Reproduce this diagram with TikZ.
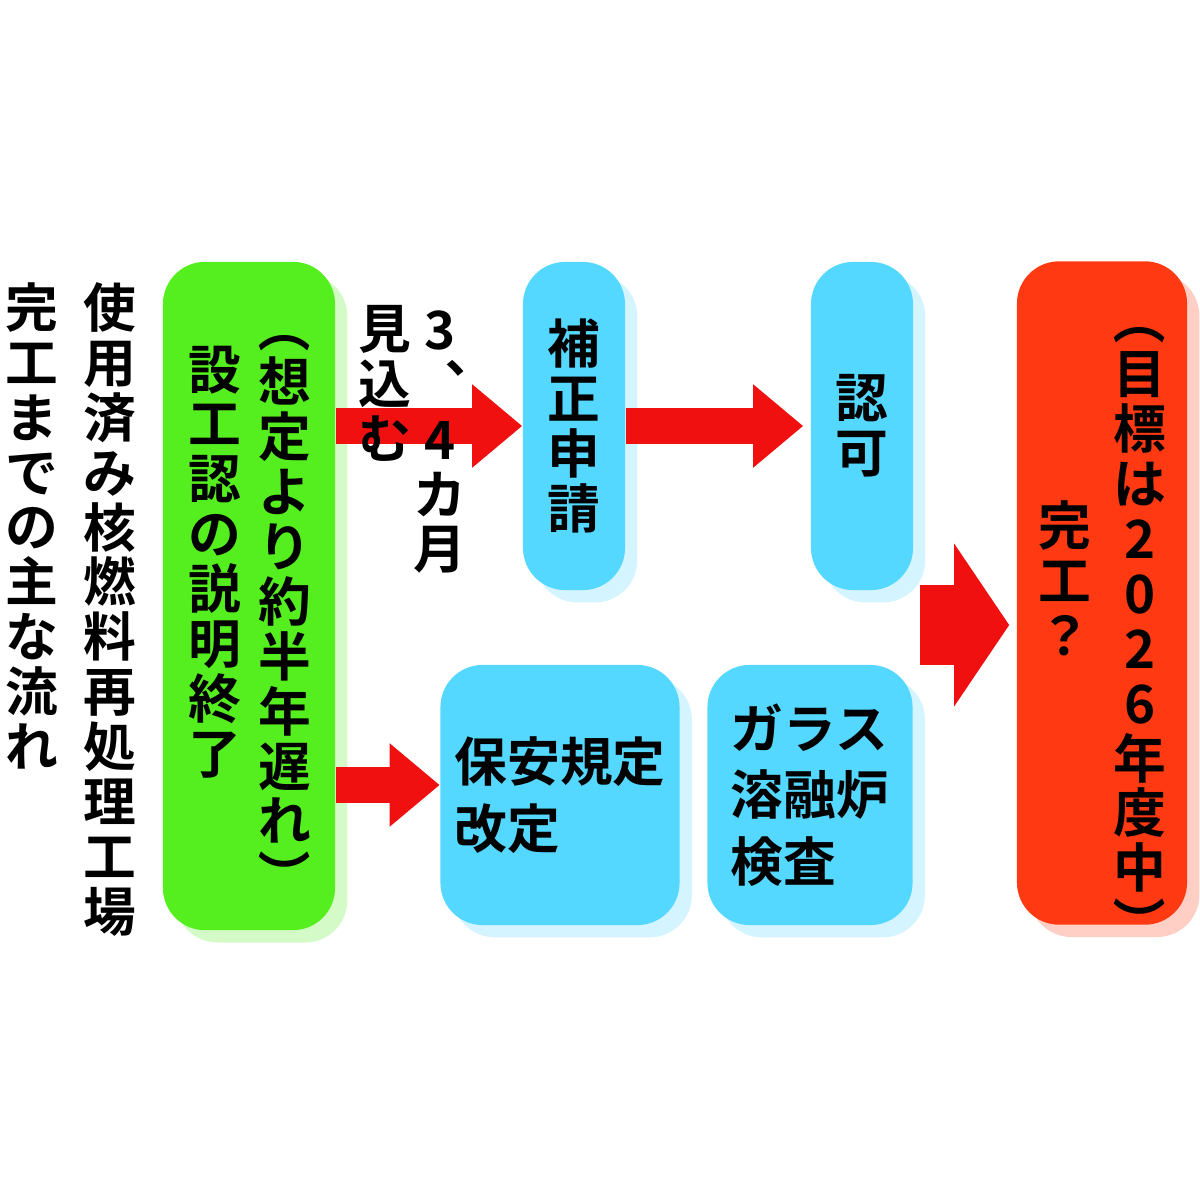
\documentclass[tikz,border=0pt]{standalone}
\usepackage{fontspec}
\setmainfont{Noto Sans CJK JP}[BoldFont={Noto Sans CJK JP Bold}]
\usetikzlibrary{arrows.meta,shadows}
\definecolor{boxgreen}{HTML}{55EE1E}
\definecolor{boxblue}{HTML}{55D8FF}
\definecolor{boxred}{HTML}{FF3A12}
\definecolor{arrowred}{HTML}{F01010}
\tikzset{
	box/.style={rounded corners=12pt, inner sep=0pt},
	gbox/.style={box, fill=boxgreen, drop shadow={shadow xshift=3.5pt, shadow yshift=-3.5pt, fill=boxgreen!25, opacity=1}},
	bbox/.style={box, fill=boxblue, drop shadow={shadow xshift=3.5pt, shadow yshift=-3.5pt, fill=boxblue!25, opacity=1}},
	rbox/.style={box, fill=boxred, drop shadow={shadow xshift=3.5pt, shadow yshift=-3.5pt, fill=boxred!25, opacity=1}},
	vcol/.style={align=center, inner sep=0pt, font=\bfseries\fontsize{15}{15.6}\selectfont},
	hcol/.style={align=left, inner sep=0pt, font=\bfseries\fontsize{15}{19}\selectfont},
	flow/.style={draw=arrowred, line width=0.36cm, -{Triangle[length=0.5cm, width=0.8cm]}},
	bigflow/.style={draw=arrowred, line width=0.8cm, -{Triangle[length=0.55cm, width=1.6cm]}},
}
\newcommand\rparen[1]{\rotatebox[origin=c]{-90}{#1}}
\begin{document}
\begin{tikzpicture}[x=0.01cm, y=-0.01cm]
	\useasboundingbox (0,0) rectangle (1200,1200);
	% boxes
	\node[gbox, minimum width=1.72cm, minimum height=6.68cm] (setsumei) at (249,596) {};
	\node[bbox, minimum width=1.02cm, minimum height=3.28cm] (hosei) at (574,426) {};
	\node[bbox, minimum width=1.02cm, minimum height=3.28cm] (ninka) at (862,426) {};
	\node[bbox, minimum width=2.39cm, minimum height=2.60cm] (hoan) at (560,795) {};
	\node[bbox, minimum width=2.05cm, minimum height=2.60cm] (glass) at (810,795) {};
	\node[rbox, minimum width=1.70cm, minimum height=6.63cm] (kanko) at (1102,593) {};

	% arrows
	\draw[flow] (setsumei.east |- hosei.west) -- (hosei.west);
	\draw[flow] (hosei.east) -- ([xshift=-2pt]ninka.west);
	\draw[flow] (setsumei.east |- 0,785) -- (hoan.west |- 0,785);
	\coordinate (gather) at (920,625);
	\draw[bigflow] (gather) -- ([xshift=-2pt]kanko.west |- gather);

	% title
	\node[vcol, anchor=north] (title1) at (110,282) {使\\用\\済\\み\\核\\燃\\料\\再\\処\\理\\工\\場};
	\node[vcol, anchor=north] (title2) at (32,282) {完\\工\\ま\\で\\の\\主\\な\\流\\れ};

	% texts in boxes
	\node[vcol, anchor=north] (okure) at (285,300) {\rparen{（}\\想\\定\\よ\\り\\約\\半\\年\\遅\\れ\\\rparen{）}};
	\node[vcol, anchor=north] (setsu) at (215,345) {設\\工\\認\\の\\説\\明\\終\\了};
	\node[vcol, anchor=north] (mikomu) at (385,305) {見\\込\\む};
	\node[vcol, anchor=north] (kagetsu) at (440,310) {3\\︑\\4\\カ\\月};
	\node[vcol, anchor=center] (hoseit) at (hosei) {補\\正\\申\\請};
	\node[vcol, anchor=center] (ninkat) at (ninka) {認\\可};
	\node[hcol, anchor=center] (hoant) at (hoan) {保安規定\\改定};
	\node[hcol, anchor=center] (glasst) at (glass) {ガラス\\溶融炉\\検査};
	\node[vcol, anchor=north] (mokuhyo) at (1140,292) {\rparen{（}\\目\\標\\は\\2\\0\\2\\6\\年\\度\\中\\\rparen{）}};
	\node[vcol, anchor=north] (kankot) at (1065,500) {完\\工\\？};
\end{tikzpicture}
\end{document}
